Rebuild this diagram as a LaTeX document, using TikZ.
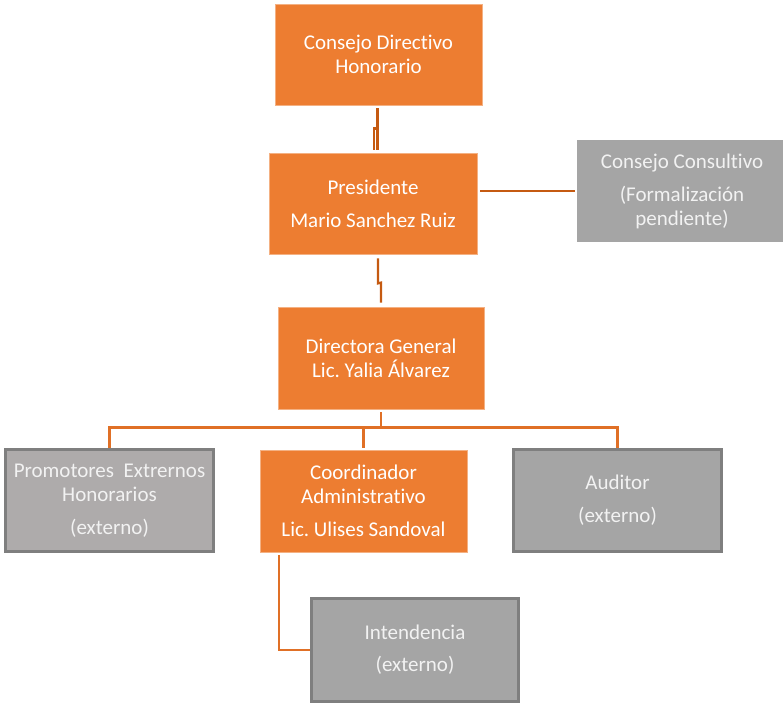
\documentclass[tikz,border=0pt]{standalone}
\usepackage{fontspec}
\setmainfont{Carlito}[Ligatures={NoCommon}]
\usetikzlibrary{calc}
\frenchspacing
\definecolor{org}{HTML}{ED7D31}
\definecolor{orgline}{HTML}{F4B183}
\definecolor{gry}{HTML}{A5A5A5}
\definecolor{gryP}{HTML}{AEABAB}
\definecolor{gryB}{HTML}{7F7F7F}
\definecolor{connA}{HTML}{C55A11}
\definecolor{connB}{HTML}{E07026}
\definecolor{gtext}{HTML}{F2F2F2}
\begin{document}
\begin{tikzpicture}[x=1pt,y=-1pt,
  box/.style={rectangle, inner sep=0pt, align=center, text=white, font=\fontsize{21}{24}\selectfont},
  obox/.style={box, fill=org, draw=orgline, line width=0.8pt},
  gbox/.style={box, fill=gry, draw=gryB, line width=3pt, text=gtext},
  conn/.style={draw=connB, line width=2.2pt},
  connd/.style={draw=connA, line width=2.2pt}]
\useasboundingbox (0,0) rectangle (783,704);

\node[obox, minimum width=207pt, minimum height=101pt] (b1) at (378.5,54.5) {Consejo Directivo\\Honorario};
\node[obox, minimum width=208pt, minimum height=101pt] (b2) at (373,203.5) {Presidente\\[9pt]Mario Sanchez Ruiz};
\node[box, fill=gry, text=gtext, minimum width=210pt, minimum height=102pt] (cc) at (682,191) {Consejo Consultivo\\[9pt](Formalización\\pendiente)};
\node[obox, minimum width=206pt, minimum height=102pt] (b3) at (381,358) {Directora General\\Lic. Yalia Álvarez};
\node[gbox, fill=gryP, minimum width=208pt, minimum height=102pt] (prom) at (109.5,500.5) {Promotores\ \ Extrernos\\Honorarios\\[9pt](externo)};
\node[obox, minimum width=207pt, minimum height=102pt] (coord) at (363.5,501) {Coordinador\\Administrativo\\[9pt]Lic. Ulises Sandoval};
\node[gbox, minimum width=208pt, minimum height=102pt] (aud) at (617.5,500.5) {Auditor\\[9pt](externo)};
\node[gbox, minimum width=207pt, minimum height=103pt] (int) at (415,650) {Intendencia\\[8pt](externo)};

\draw[connd] ($(b1.south)+(-1,3)$) -- ($(b2.north)+(4.5,-3)$);
\draw[connd] ($(b1.south)+(-1,23)$) -- ($(b1.south)+(-4.5,23)$) -- ($(b2.north)+(1,-3)$);
\draw[connd] ($(b2.south)+(5,4)$) -- ($(b2.south)+(5,29)$) -- ($(b3.north)+(0,-24)$) -- ($(b3.north)+(0,-4)$);
\draw[connd] ($(b2.east |- cc.west)+(3,0)$) -- ($(cc.west)+(-2,0)$);

\coordinate (bus) at (0,427.5);
\draw[conn] ($(b3.south)+(0,3)$) -- (b3.south |- bus);
\draw[conn] (prom.north) -- (prom.north |- bus) -- (aud.north |- bus) -- (aud.north);
\draw[conn] ($(coord.north)+(0,-2)$) -- (coord.north |- bus);
\draw[conn] ($(coord.south west)+(19,3)$) |- (int.west);
\end{tikzpicture}
\end{document}
